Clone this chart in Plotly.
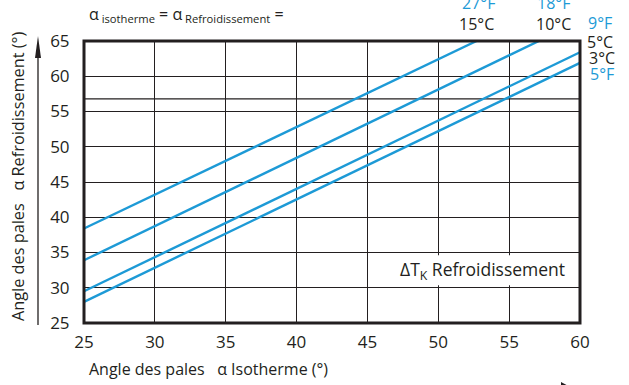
import plotly.graph_objects as go

# Blade-angle correction lines: isothermal angle -> cooling angle, one line per ΔT
line_names = ["15°C / 27°F", "10°C / 18°F", "5°C / 9°F", "3°C / 5°F"]
iso_start = [25, 25, 25, 25]
iso_end = [52.7, 57.1, 60, 60]
cool_start = [38.4, 33.9, 29.5, 28.0]
cool_end = [65, 65, 63.4, 61.9]

x_ticks = [25, 30, 35, 40, 45, 50, 55, 60]
y_ticks = [25, 30, 35, 40, 45, 50, 55, 60, 65]
extra_grid_y = 56.8

BLUE = "#1d9ad6"
INK = "#231f20"
FONT = "Open Sans"

# plot-area geometry (pixels) used to place free text in paper coordinates
L, T, W, H = 84, 41, 496, 282


def xp(px):
    return (px - L) / W


def yp(py):
    return (T + H - py) / H


fig = go.Figure()
for name, x0, x1, y0, y1 in zip(line_names, iso_start, iso_end, cool_start, cool_end):
    fig.add_trace(go.Scatter(
        x=[x0, x1], y=[y0, y1], mode="lines", name=name,
        line=dict(color=BLUE, width=2.4), showlegend=False, hoverinfo="skip",
    ))

shapes = [
    # extra horizontal rule of the grid
    dict(type="line", xref="x domain", yref="y", x0=0, x1=1, y0=extra_grid_y, y1=extra_grid_y,
         line=dict(color=INK, width=1.3), layer="below"),
    # white panel behind the ΔT caption
    dict(type="rect", xref="x", yref="y", x0=47.2, x1=59.9, y0=30.35, y1=34.6,
         fillcolor="white", line=dict(width=0), layer="between"),
    # frame
    dict(type="rect", xref="x domain", yref="y domain", x0=0, x1=1, y0=0, y1=1,
         line=dict(color=INK, width=3), layer="above"),
    # vertical arrow beside the y title
    dict(type="line", xref="paper", yref="paper", x0=xp(38), x1=xp(38), y0=yp(325), y1=yp(56),
         line=dict(color=INK, width=1.3)),
    dict(type="path", xref="paper", yref="paper",
         path=f"M {xp(38)} {yp(36)} L {xp(35)} {yp(58)} L {xp(41)} {yp(58)} Z",
         fillcolor=INK, line=dict(width=0)),
    # arrow tip at the lower right edge
    dict(type="path", xref="paper", yref="paper",
         path=f"M {xp(572)} {yp(388)} L {xp(561)} {yp(382)} L {xp(561)} {yp(394)} Z",
         fillcolor=INK, line=dict(width=0)),
]

ann = []


def txt(text, x, y, size=16, color=INK, xanchor="center", yanchor="middle", angle=0):
    ann.append(dict(text=text, x=xp(x), y=yp(y), xref="paper", yref="paper",
                    xanchor=xanchor, yanchor=yanchor, showarrow=False, textangle=angle,
                    font=dict(family=FONT, size=size, color=color)))


# formula header
txt("α<sub>\u00a0isotherme</sub> = α<sub>\u00a0Refroidissement</sub> =", 87, 15, size=16, xanchor="left")

# temperature labels at line ends
txt("27°F", 478, 3, color=BLUE)
txt("15°C", 476, 24)
txt("18°F", 553, 3, color=BLUE)
txt("10°C", 553, 24)
txt("9°F", 600, 23, color=BLUE)
txt("5°C", 600, 42)
txt("3°C", 602, 58)
txt("5°F", 602, 74, color=BLUE)

# caption inside the grid
txt("ΔT<sub>K</sub> Refroidissement", 482, 270, size=17.5)

# axis titles
txt("Angle des pales\u00a0\u00a0 α Isotherme (°)", 87, 369, size=16, xanchor="left")
txt("Angle des pales\u00a0\u00a0 α Refroidissement (°)", 18, 176, size=16.3, angle=-90)

fig.update_layout(
    width=629, height=385,
    margin=dict(l=L, r=629 - L - W, t=T, b=385 - T - H, pad=0),
    paper_bgcolor="white", plot_bgcolor="white",
    shapes=shapes, annotations=ann,
    font=dict(family=FONT, color=INK, size=16),
)
fig.update_xaxes(
    range=[25, 60], tickvals=x_ticks, ticktext=[str(v) for v in x_ticks],
    showgrid=True, gridcolor=INK, gridwidth=1.3, zeroline=False, showline=False,
    ticks="outside", ticklen=4, tickcolor="rgba(0,0,0,0)",
    tickfont=dict(family=FONT, size=17, color=INK),
)
fig.update_yaxes(
    range=[25, 65], tickvals=y_ticks, ticktext=[str(v) for v in y_ticks],
    showgrid=True, gridcolor=INK, gridwidth=1.3, zeroline=False, showline=False,
    ticks="outside", ticklen=10, tickcolor="rgba(0,0,0,0)",
    tickfont=dict(family=FONT, size=17, color=INK),
)

fig.write_html("out.html")
